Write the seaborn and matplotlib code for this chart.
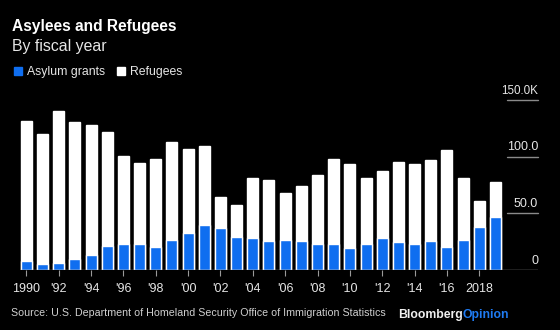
import matplotlib
matplotlib.use("Agg")
import matplotlib.pyplot as plt
import seaborn as sns
import pandas as pd
import numpy as np

years = list(range(1990, 2020))
totals = [131.8, 119.7, 140.0, 130.3, 128.0, 121.8, 100.6, 94.7, 98.2, 112.7,
          106.5, 109.7, 64.1, 57.4, 80.9, 79.4, 68.0, 74.1, 84.1, 97.7,
          93.8, 80.9, 87.1, 95.3, 93.8, 96.8, 105.9, 80.9, 60.6, 77.4]
asylum = [8.2, 5.3, 5.9, 9.7, 13.5, 21.2, 23.2, 23.2, 20.3, 26.5,
          32.4, 39.4, 37.1, 28.8, 27.9, 25.6, 26.5, 25.6, 23.2, 22.6,
          19.7, 23.2, 28.2, 24.7, 23.2, 25.6, 20.3, 26.5, 38.0, 47.0]
refugees = [t - a for t, a in zip(totals, asylum)]
tick_years = list(range(1990, 2020, 2))
tick_labels = ["1990", "'92", "'94", "'96", "'98", "'00", "'02", "'04", "'06",
               "'08", "'10", "'12", "'14", "'16", "2018"]
y_ticks = [0, 50, 100, 150]
y_labels = ["0", "50.0", "100.0", "150.0K"]

BLUE = "#0f6ef0"
BG = "black"
FONT = ["Liberation Sans", "DejaVu Sans"]

sns.set_theme(style="dark")
plt.rcParams["font.family"] = FONT

df = pd.DataFrame({"year": [str(y) for y in years], "asylum": asylum,
                   "total": totals, "refugees": refugees})

fig = plt.figure(figsize=(5.6, 3.3), dpi=100, facecolor=BG)
ax = fig.add_axes([20 / 560, 60 / 330, 518 / 560, 170 / 330])
ax.set_facecolor(BG)

sns.barplot(data=df, x="year", y="total", color="white", width=0.68,
            saturation=1, ax=ax, zorder=2)
sns.barplot(data=df, x="year", y="asylum", color=BLUE, width=0.68,
            saturation=1, ax=ax, zorder=3)

ax.set_xlim(-0.39, 31.63)
ax.set_ylim(0, 150)
for s in ax.spines.values():
    s.set_visible(False)
ax.grid(False)
ax.set_xlabel("")
ax.set_ylabel("")

# baseline
ax.axhline(0, color="#9a9a9a", lw=1, zorder=4)

# x ticks
pos = [years.index(y) for y in tick_years]
ax.set_xticks(pos)
ax.set_xticklabels(tick_labels, color="#e6e6e6", fontsize=9)
ax.tick_params(axis="x", length=4, width=0.8, color="#9a9a9a", pad=5,
               bottom=True, direction="out")

# y ticks: short grid segments at right, labels above them
ax.set_yticks([])
ytr = ax.get_yaxis_transform()
for v, lab in zip(y_ticks, y_labels):
    if v > 0:
        ax.plot([0.940, 1.0], [v, v], transform=ytr, color="#8a8a8a", lw=1,
                clip_on=False, zorder=1)
    fs = 8.4 if lab.endswith("K") else 9
    ax.text(1.0, v + 3.0, lab, transform=ytr, ha="right", va="bottom",
            color="#e6e6e6", fontsize=fs)

# titles
fig.text(12 / 560, 1 - 27 / 330, "Asylees and Refugees", color="white",
         fontsize=11.2, fontweight="bold", va="center", ha="left")
fig.text(12 / 560, 1 - 46 / 330, "By fiscal year", color="#e6e6e6",
         fontsize=11.4, va="center", ha="left")

# legend
fig.patches.append(plt.Rectangle((14 / 560, 1 - 75 / 330), 8 / 560, 8 / 330,
                                 transform=fig.transFigure, color=BLUE))
fig.text(27 / 560, 1 - 71.5 / 330, "Asylum grants", color="#e6e6e6",
         fontsize=8.8, va="center", ha="left")
fig.patches.append(plt.Rectangle((117 / 560, 1 - 75 / 330), 8 / 560, 8 / 330,
                                 transform=fig.transFigure, color="white"))
fig.text(130 / 560, 1 - 71.5 / 330, "Refugees", color="#e6e6e6",
         fontsize=8.8, va="center", ha="left")

# source & logo
fig.text(11 / 560, 1 - 313 / 330,
         "Source: U.S. Department of Homeland Security Office of Immigration Statistics",
         color="#d0d0d0", fontsize=7.7, va="center", ha="left")
t1 = fig.text(398 / 560, 1 - 315 / 330, "Bloomberg", color="#f0f0f0",
              fontsize=8.8, fontweight="bold", va="center", ha="left")
fig.canvas.draw()
bb = t1.get_window_extent()
fig.text(bb.x1 / 560, 1 - 315 / 330, "Opinion", color="#1f7bf2",
         fontsize=8.8, fontweight="bold", va="center", ha="left")

fig.savefig("out.png", dpi=100, facecolor=BG)
